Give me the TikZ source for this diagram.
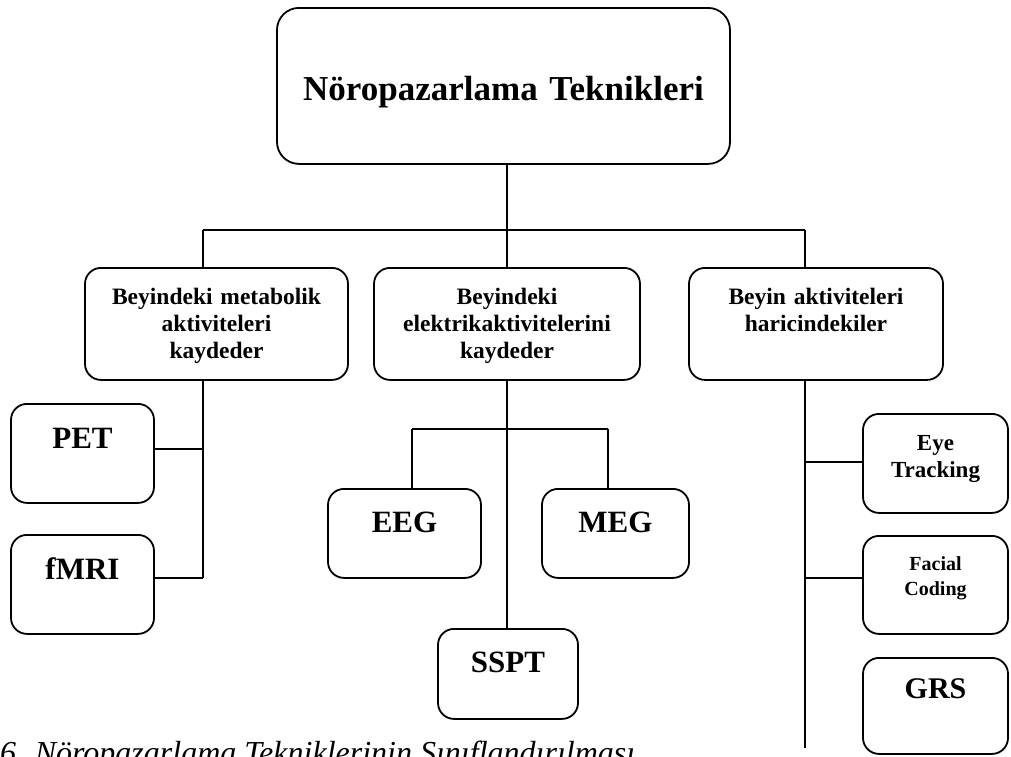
\documentclass[tikz,border=0pt]{standalone}
\usepackage{fontspec}
\setmainfont{Liberation Serif}
\usetikzlibrary{positioning}
\tikzset{
  topbox/.style={rectangle, draw=black, line width=1.8pt, rounded corners=22pt,
    inner sep=0pt, align=center, font=\fontsize{35}{40}\selectfont\bfseries},
  midbox/.style={rectangle, draw=black, line width=1.8pt, rounded corners=16pt,
    inner sep=0pt, align=center, text height=37pt, text depth=75pt,
    font=\fontsize{23.5}{27}\selectfont\bfseries},
  leafbox/.style={rectangle, draw=black, line width=1.8pt, rounded corners=16pt,
    inner sep=0pt, align=center, text width=143pt, text height=45pt, text depth=54pt,
    font=\fontsize{31}{36}\selectfont\bfseries},
  smallbox/.style={leafbox, font=\fontsize{23}{27}\selectfont\bfseries},
  line/.style={line width=1.8pt, color=black},
  caption/.style={inner sep=0pt, font=\fontsize{32}{38}\selectfont\itshape}
}
\begin{document}
\begin{tikzpicture}[x=1pt, y=-1pt]
  \useasboundingbox (0,0) rectangle (1011,756);
  % top level
  \node[topbox, text width=453pt, text height=93pt, text depth=63pt, anchor=north]
    (tek) at (503.5,7) {Nöropazarlama Teknikleri};
  % second level
  \node[midbox, text width=263pt, anchor=north] (metab) at (216.5,267)
    {Beyindeki metabolik\\aktiviteleri\\kaydeder};
  \node[midbox, text width=266pt, anchor=north] (elek) at (507,267)
    {Beyindeki\\elektrikaktivitelerini\\kaydeder};
  \node[midbox, text width=254pt, anchor=north] (haric) at (816,267)
    {Beyin aktiviteleri\\haricindekiler};
  % leaves
  \node[leafbox, anchor=north] (pet) at (82.5,403) {PET};
  \node[leafbox, anchor=north] (fmri) at (82.5,534) {fMRI};
  \node[leafbox, text width=153pt, text height=44pt, text depth=45pt, anchor=north]
    (eeg) at (404.5,488) {EEG};
  \node[leafbox, text width=147pt, text height=44pt, text depth=45pt, anchor=north]
    (meg) at (615.5,488) {MEG};
  \node[leafbox, text width=140pt, text height=44pt, text depth=46pt, anchor=north]
    (sspt) at (508,628) {SSPT};
  \node[smallbox, text width=145pt, text height=37pt, text depth=62pt, anchor=north]
    (eye) at (935.5,413) {Eye\\Tracking};
  \node[smallbox, text width=145pt, text height=35pt, text depth=63pt, anchor=north,
    font=\fontsize{20}{25}\selectfont\bfseries] (facial) at (935.5,535) {Facial\\Coding};
  \node[leafbox, text width=145pt, text height=41pt, text depth=55pt, anchor=north,
    font=\fontsize{30}{35}\selectfont\bfseries] (grs) at (935.5,657) {GRS};
  % joints
  \coordinate (jl) at (203,230);
  \coordinate (jm) at (507,230);
  \coordinate (jr) at (805,230);
  \coordinate (petj) at (203,449);
  \coordinate (lend) at (203,578);
  \coordinate (ml) at (412,429);
  \coordinate (mr) at (608,429);
  \coordinate (eyej) at (805,462);
  \coordinate (facj) at (805,578);
  \coordinate (rend) at (805,748);
  % connectors
  \draw[line] (jm |- tek.south) -- (jm);
  \draw[line] (jl) -- (jr);
  \draw[line] (jl) -- (jl |- metab.north);
  \draw[line] (jm) -- (jm |- elek.north);
  \draw[line] (jr) -- (jr |- haric.north);
  \draw[line] (jl |- metab.south) -- (lend);
  \draw[line] (petj) -- (petj -| pet.east);
  \draw[line] (lend) -- (lend -| fmri.east);
  \draw[line] (elek.south) -- (elek.south |- sspt.north);
  \draw[line] (ml) -- (mr);
  \draw[line] (ml) -- (ml |- eeg.north);
  \draw[line] (mr) -- (mr |- meg.north);
  \draw[line] (jr |- haric.south) -- (rend);
  \draw[line] (eyej) -- (eyej -| eye.west);
  \draw[line] (facj) -- (facj -| facial.west);
  % caption
  \node[caption, anchor=base west] (cap) at (0,763)
    {6. Nöropazarlama Tekniklerinin Sınıflandırılması};
\end{tikzpicture}
\end{document}
